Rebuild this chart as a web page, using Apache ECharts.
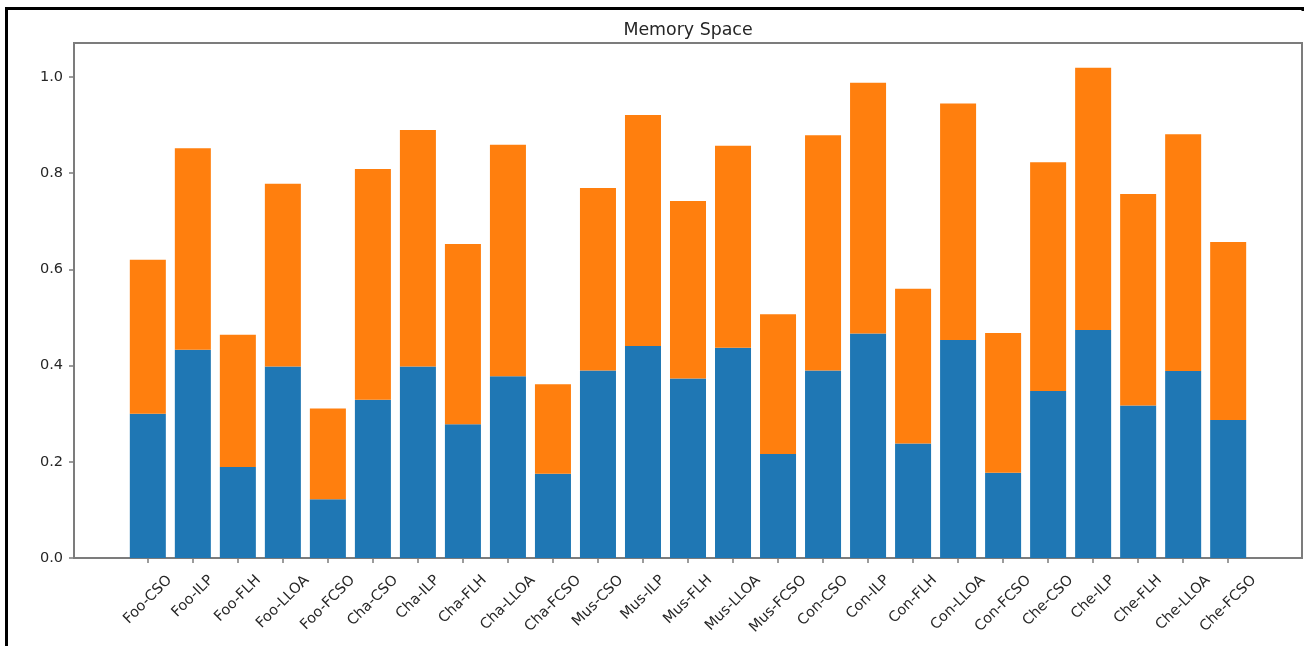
<!DOCTYPE html>
<html>
<head>
<meta charset="utf-8">
<script src="https://cdn.jsdelivr.net/npm/echarts@6/dist/echarts.min.js"></script>
<style>
  html, body { margin: 0; padding: 0; background: #ffffff; }
  #chart { width: 1304px; height: 646px; }
</style>
</head>
<body>
<div id="chart"></div>
<script>
// Stacked memory-space bars: lower part (blue) plus the added part on top (orange).
const categories = [
  'Foo-CSO', 'Foo-ILP', 'Foo-FLH', 'Foo-LLOA', 'Foo-FCSO',
  'Cha-CSO', 'Cha-ILP', 'Cha-FLH', 'Cha-LLOA', 'Cha-FCSO',
  'Mus-CSO', 'Mus-ILP', 'Mus-FLH', 'Mus-LLOA', 'Mus-FCSO',
  'Con-CSO', 'Con-ILP', 'Con-FLH', 'Con-LLOA', 'Con-FCSO',
  'Che-CSO', 'Che-ILP', 'Che-FLH', 'Che-LLOA', 'Che-FCSO'
];
const lowerValues = [
  0.300, 0.433, 0.189, 0.398, 0.122,
  0.329, 0.398, 0.278, 0.378, 0.175,
  0.390, 0.441, 0.373, 0.437, 0.216,
  0.390, 0.467, 0.238, 0.453, 0.177,
  0.347, 0.474, 0.317, 0.389, 0.287
];
const upperValues = [
  0.320, 0.419, 0.275, 0.380, 0.189,
  0.480, 0.492, 0.375, 0.481, 0.186,
  0.379, 0.480, 0.369, 0.420, 0.291,
  0.489, 0.521, 0.322, 0.492, 0.291,
  0.476, 0.545, 0.440, 0.492, 0.370
];
const yTicks = [0.0, 0.2, 0.4, 0.6, 0.8, 1.0];

const W = 1304, H = 646;
const frameLeft = 74, frameRight = 2, frameTop = 43, frameBottom = 88;
// x extent in category units: bars span -0.4..24.4, padded by 5% on both sides
const xMin = -1.64, xMax = 25.64;
const yMin = 0, yMax = 1.0707;
const FONT = "'DejaVu Sans', 'Liberation Sans', sans-serif";
const tickFontSize = 14.5;
const textColor = '#262626';
const spineColor = '#7c7c7c';

const pxPerUnit = (W - frameLeft - frameRight) / (xMax - xMin);
// The bar grid covers exactly the category bands (-0.5 .. n-0.5) inside the frame.
const barsLeft = frameLeft + (-0.5 - xMin) * pxPerUnit;
const barsRight = frameRight + (xMax - (categories.length - 0.5)) * pxPerUnit;

// Rotated labels are placed so that their bounding box is centred under the tick:
// the right end of each label sits 0.354 * (text width) to the right of its tick.
const measureCtx = document.createElement('canvas').getContext('2d');
measureCtx.font = tickFontSize + 'px ' + FONT;
const tickPositions = categories.map((_, i) => i);
const labelPositions = categories.map((name, i) =>
  i + Math.SQRT1_2 * 0.5 * measureCtx.measureText(name).width / pxPerUnit);

const chart = echarts.init(document.getElementById('chart'), null, { renderer: 'canvas' });

chart.setOption({
  animation: false,
  backgroundColor: '#ffffff',
  title: {
    text: 'Memory Space',
    left: 683,
    textAlign: 'center',
    top: 17,
    textStyle: { fontFamily: FONT, fontSize: 17.4, fontWeight: 'normal', color: textColor }
  },
  grid: [
    {
      left: frameLeft, right: frameRight, top: frameTop, bottom: frameBottom,
      show: true, borderColor: spineColor, borderWidth: 2, backgroundColor: 'transparent'
    },
    {
      left: barsLeft, right: barsRight, top: frameTop, bottom: frameBottom
    }
  ],
  xAxis: [
    {
      gridIndex: 0,
      type: 'value',
      min: xMin, max: xMax,
      axisLine: { show: false, onZero: false },
      splitLine: { show: false },
      axisTick: { show: true, customValues: tickPositions, length: 5, lineStyle: { color: spineColor, width: 1.5 } },
      axisLabel: {
        customValues: labelPositions,
        rotate: 45,
        margin: 20,
        fontFamily: FONT,
        fontSize: tickFontSize,
        color: textColor,
        formatter: v => categories[Math.floor(v + 1e-6)]
      }
    },
    {
      gridIndex: 1,
      type: 'category',
      data: categories,
      show: false
    }
  ],
  yAxis: [
    {
      gridIndex: 0,
      type: 'value',
      min: yMin, max: yMax,
      axisLine: { show: false, onZero: false },
      splitLine: { show: false },
      axisTick: { show: true, customValues: yTicks, length: 5, lineStyle: { color: spineColor, width: 1.5 } },
      axisLabel: {
        customValues: yTicks,
        margin: 11,
        fontFamily: FONT,
        fontSize: tickFontSize,
        color: textColor,
        formatter: v => v.toFixed(1)
      }
    },
    {
      gridIndex: 1,
      type: 'value',
      min: yMin, max: yMax,
      show: false,
      splitLine: { show: false }
    }
  ],
  series: [
    {
      name: 'lower',
      type: 'bar',
      xAxisIndex: 1, yAxisIndex: 1,
      stack: 'memory',
      barWidth: '80%',
      itemStyle: { color: '#1f77b4' },
      data: lowerValues
    },
    {
      name: 'upper',
      type: 'bar',
      xAxisIndex: 1, yAxisIndex: 1,
      stack: 'memory',
      barWidth: '80%',
      itemStyle: { color: '#ff7f0e' },
      data: upperValues
    }
  ],
  graphic: [
    {
      type: 'polyline',
      silent: true,
      shape: { points: [[6.5, H], [6.5, 8.5], [1303, 8.5], [1303, 11]] },
      style: { stroke: '#000000', lineWidth: 3, fill: null }
    }
  ]
});
</script>
</body>
</html>
